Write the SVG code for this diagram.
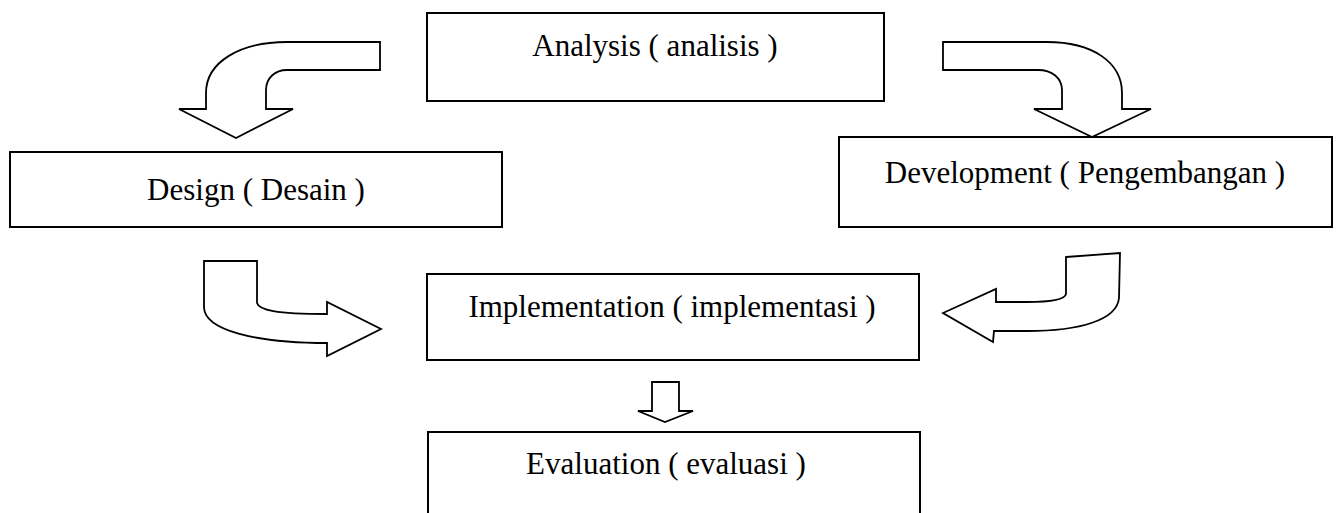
<svg xmlns="http://www.w3.org/2000/svg" width="1340" height="513" viewBox="0 0 1340 513">
<style>
.box{fill:#fff;stroke:#000;stroke-width:2}
.arr{fill:#fff;stroke:#000;stroke-width:1.8;stroke-linejoin:miter}
.lbl{font-family:"Liberation Serif","Times New Roman",serif;font-size:31px;fill:#000;text-anchor:middle}
</style>
<rect width="1340" height="513" fill="#fff"/>
<g id="connectors">
<path class="arr" d="M380,42 L287,42 C240,42 206,62 206,93 L206,109 L179,109 L236,138 L293,109 L266,109 L266,90 C266,78 275,70 287,70 L380,70 Z"/>
<path class="arr" d="M943,42 L1047,42 C1092,42 1122,62 1122,93 L1122,109 L1151,109 L1092,137 L1034,109 L1062,109 L1062,90 C1062,78 1052,70 1038,70 L943,70 Z"/>
<path class="arr" d="M204,261 L257,261 L257,303 C259,310 275,314 327,314 L327,302 L381,329 L327,356 L327,343 C255,343 204,330 204,307 Z"/>
<path class="arr" d="M1066,257 L1120,253 L1119,298 C1117,320 1080,331 1027,331 L994,331 L993,342 L943,313 L996,289 L996,302 L1027,302 C1055,302 1065,299 1066,294 Z"/>
<path class="arr" d="M652,382 L679,382 L679,411 L693,411 L665,422 L638,411 L652,411 Z"/>
</g>
<g id="analysis">
<rect class="box" x="427" y="13" width="457" height="88"/>
<text class="lbl" x="655" y="56">Analysis ( analisis )</text>
</g>
<g id="design">
<rect class="box" x="10" y="152" width="492" height="75"/>
<text class="lbl" x="256" y="200">Design ( Desain )</text>
</g>
<g id="development">
<rect class="box" x="839" y="137" width="493" height="90"/>
<text class="lbl" x="1085" y="183">Development ( Pengembangan )</text>
</g>
<g id="implementation">
<rect class="box" x="427" y="274" width="492" height="86"/>
<text class="lbl" x="672" y="317">Implementation ( implementasi )</text>
</g>
<g id="evaluation">
<rect class="box" x="428" y="432" width="492" height="100"/>
<text class="lbl" x="666" y="474">Evaluation ( evaluasi )</text>
</g>
</svg>
